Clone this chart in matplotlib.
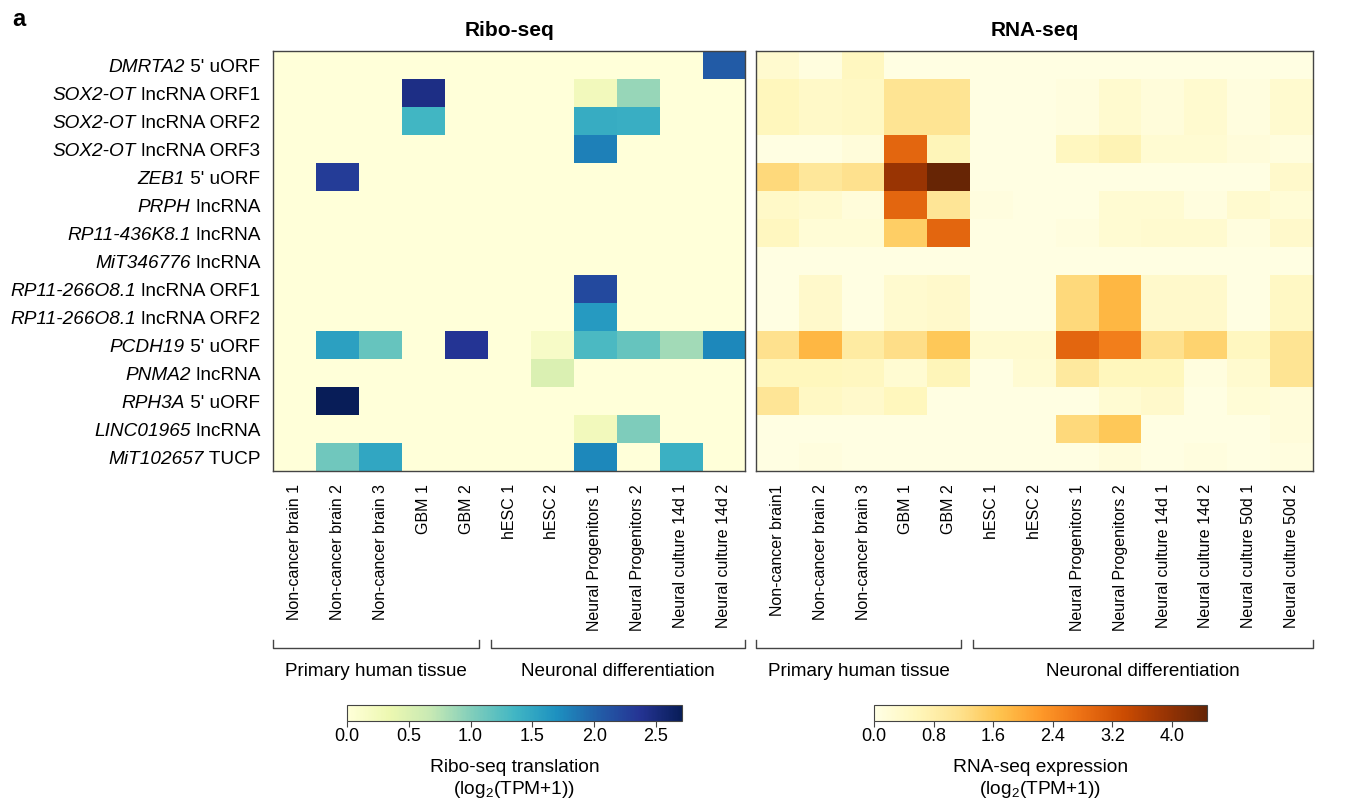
import numpy as np
import matplotlib
matplotlib.use("Agg")
import matplotlib.pyplot as plt
from matplotlib.transforms import blended_transform_factory

plt.rcParams["font.family"] = ["Liberation Sans", "DejaVu Sans"]
plt.rcParams["mathtext.fontset"] = "custom"
plt.rcParams["mathtext.rm"] = "Liberation Sans"
plt.rcParams["mathtext.it"] = "Liberation Sans:italic"

# -----------------------------
# data
# -----------------------------
GENES = ["DMRTA2", "SOX2-OT", "SOX2-OT", "SOX2-OT", "ZEB1", "PRPH", "RP11-436K8.1",
         "MiT346776", "RP11-266O8.1", "RP11-266O8.1", "PCDH19", "PNMA2", "RPH3A",
         "LINC01965", "MiT102657"]
SUFFIX = ["5' uORF", "lncRNA ORF1", "lncRNA ORF2", "lncRNA ORF3", "5' uORF", "lncRNA",
          "lncRNA", "lncRNA", "lncRNA ORF1", "lncRNA ORF2", "5' uORF", "lncRNA",
          "5' uORF", "lncRNA", "TUCP"]

RIBO_SAMPLES = ["Non-cancer brain 1", "Non-cancer brain 2", "Non-cancer brain 3", "GBM 1",
                "GBM 2", "hESC 1", "hESC 2", "Neural Progenitors 1", "Neural Progenitors 2",
                "Neural culture 14d 1", "Neural culture 14d 2"]
RNA_SAMPLES = ["Non-cancer brain1", "Non-cancer brain 2", "Non-cancer brain 3", "GBM 1",
               "GBM 2", "hESC 1", "hESC 2", "Neural Progenitors 1", "Neural Progenitors 2",
               "Neural culture 14d 1", "Neural culture 14d 2", "Neural culture 50d 1",
               "Neural culture 50d 2"]

RIBO = np.array([
    [0, 0, 0, 0, 0, 0, 0, 0, 0, 0, 2.05],
    [0, 0, 0, 2.45, 0, 0, 0, 0.25, 0.9, 0, 0],
    [0, 0, 0, 1.35, 0, 0, 0, 1.45, 1.42, 0, 0],
    [0, 0, 0, 0, 0, 0, 0, 1.8, 0, 0, 0],
    [0, 2.3, 0, 0, 0, 0, 0, 0, 0, 0, 0],
    [0, 0, 0, 0, 0, 0, 0, 0, 0, 0, 0],
    [0, 0, 0, 0, 0, 0, 0, 0, 0, 0, 0],
    [0, 0, 0, 0, 0, 0, 0, 0, 0, 0, 0],
    [0, 0, 0, 0, 0, 0, 0, 2.2, 0, 0, 0],
    [0, 0, 0, 0, 0, 0, 0, 1.6, 0, 0, 0],
    [0, 1.55, 1.15, 0, 2.37, 0, 0.15, 1.3, 1.15, 0.85, 1.75],
    [0, 0, 0, 0, 0, 0, 0.5, 0, 0, 0, 0],
    [0, 2.7, 0, 0, 0, 0, 0, 0, 0, 0, 0],
    [0, 0, 0, 0, 0, 0, 0, 0.25, 1.02, 0, 0],
    [0, 1.1, 1.5, 0, 0, 0, 0, 1.75, 0, 1.4, 0],
])

RNA = np.array([
    [0.3, 0.1, 0.5, 0.05, 0.05, 0.05, 0.05, 0.05, 0.05, 0.05, 0.05, 0.05, 0.05],
    [0.55, 0.4, 0.45, 1.1, 1.1, 0.05, 0.05, 0.1, 0.3, 0.15, 0.3, 0.1, 0.3],
    [0.55, 0.4, 0.45, 1.1, 1.1, 0.05, 0.05, 0.1, 0.3, 0.15, 0.3, 0.1, 0.3],
    [0.05, 0.05, 0.15, 2.95, 0.6, 0.05, 0.05, 0.5, 0.65, 0.25, 0.25, 0.15, 0.1],
    [1.3, 1.0, 1.15, 3.9, 4.45, 0.05, 0.05, 0.05, 0.05, 0.05, 0.05, 0.05, 0.35],
    [0.4, 0.3, 0.15, 2.95, 1.05, 0.1, 0.05, 0.05, 0.25, 0.25, 0.1, 0.3, 0.2],
    [0.5, 0.2, 0.2, 1.5, 2.95, 0.05, 0.05, 0.1, 0.25, 0.3, 0.3, 0.1, 0.35],
    [0.05, 0.05, 0.05, 0.05, 0.05, 0.05, 0.05, 0.05, 0.05, 0.05, 0.05, 0.05, 0.05],
    [0.05, 0.35, 0.05, 0.3, 0.35, 0.05, 0.05, 1.3, 1.85, 0.35, 0.35, 0.05, 0.45],
    [0.05, 0.35, 0.05, 0.3, 0.35, 0.05, 0.05, 1.3, 1.85, 0.35, 0.35, 0.05, 0.45],
    [1.15, 1.85, 0.9, 1.2, 1.6, 0.3, 0.3, 2.95, 2.6, 1.15, 1.4, 0.5, 1.1],
    [0.55, 0.55, 0.5, 0.25, 0.6, 0.05, 0.25, 0.95, 0.55, 0.55, 0.1, 0.3, 1.1],
    [1.05, 0.45, 0.35, 0.55, 0.05, 0.05, 0.05, 0.05, 0.25, 0.35, 0.05, 0.2, 0.15],
    [0.05, 0.05, 0.05, 0.05, 0.05, 0.05, 0.05, 1.3, 1.6, 0.05, 0.05, 0.05, 0.15],
    [0.05, 0.1, 0.05, 0.05, 0.05, 0.05, 0.05, 0.05, 0.15, 0.05, 0.1, 0.05, 0.1],
])

RIBO_MAX = 2.71
RNA_MAX = 4.47
RIBO_TICKS = [0.0, 0.5, 1.0, 1.5, 2.0, 2.5]
RNA_TICKS = [0.0, 0.8, 1.6, 2.4, 3.2, 4.0]
GROUPS = ["Primary human tissue", "Neuronal differentiation"]

W, H = 1356, 802


def box(x0, y0, x1, y1):
    # pixel box (top-left origin) -> figure fraction rect
    return [x0 / W, 1 - y1 / H, (x1 - x0) / W, (y1 - y0) / H]


fig = plt.figure(figsize=(W / 100, H / 100), dpi=100)

ax1 = fig.add_axes(box(273, 51, 745, 471))
ax2 = fig.add_axes(box(756, 51, 1313, 471))

im1 = ax1.imshow(RIBO, cmap="YlGnBu", vmin=0, vmax=RIBO_MAX, aspect="auto",
                 interpolation="nearest")
im2 = ax2.imshow(RNA, cmap="YlOrBr", vmin=0, vmax=RNA_MAX, aspect="auto",
                 interpolation="nearest")

for ax, samples, title in [(ax1, RIBO_SAMPLES, "Ribo-seq"), (ax2, RNA_SAMPLES, "RNA-seq")]:
    ax.set_xticks(range(len(samples)))
    ax.set_xticklabels(samples, rotation=90, fontsize=11.5)
    ax.tick_params(axis="x", length=0, pad=9.5)
    ax.set_yticks([])
    for s in ax.spines.values():
        s.set_linewidth(1.0)
        s.set_color("#444444")
    pos = ax.get_position()
    fig.text(pos.x0 + pos.width / 2, 1 - 30 / H, title, ha="center", va="center",
             fontsize=15, fontweight="bold")

    # group brackets under the sample labels
    n = len(samples)
    tr = blended_transform_factory(ax.transData, fig.transFigure)
    yb, yt = 1 - 648 / H, 1 - 640 / H
    spans = [(-0.5, 4.29), (4.57, n - 0.5)]
    for (a, b), g in zip(spans, GROUPS):
        ax.plot([a, a, b, b], [yt, yb, yb, yt], transform=tr, color="#444444",
                lw=1.0, clip_on=False)
        ax.text((a + b) / 2, 1 - 672 / H, g, transform=tr, ha="center", va="center",
                fontsize=13.6)

# row labels: italic gene name + regular suffix
fig.canvas.draw()
renderer = fig.canvas.get_renderer()
tr_rows = blended_transform_factory(fig.transFigure, ax1.transData)
xr = 260 / W
for i, (g, s) in enumerate(zip(GENES, SUFFIX)):
    t = fig.text(xr, i, " " + s, transform=tr_rows, ha="right", va="center_baseline",
                 fontsize=13.7)
    w = t.get_window_extent(renderer).width
    fig.text(xr - w / W, i, g, transform=tr_rows, ha="right", va="center_baseline",
             fontsize=13.7, style="italic")

fig.text(12 / W, 1 - 19 / H, "a", fontsize=17, fontweight="bold", ha="left", va="center")

# colorbars
cax1 = fig.add_axes(box(347, 705, 682, 721))
cax2 = fig.add_axes(box(874, 705, 1207, 721))
for cax, im, ticks, lab in [(cax1, im1, RIBO_TICKS, "Ribo-seq translation"),
                            (cax2, im2, RNA_TICKS, "RNA-seq expression")]:
    cb = fig.colorbar(im, cax=cax, orientation="horizontal", ticks=ticks)
    cb.ax.set_xticklabels([f"{v:.1f}" for v in ticks])
    cb.ax.tick_params(length=4, width=0.8, color="#444444", labelsize=13, pad=1)
    cb.outline.set_linewidth(0.8)
    cb.outline.set_edgecolor("#444444")
    cb.set_label(lab + "\n(log$_2$(TPM+1))", fontsize=13.8, labelpad=10, linespacing=1.2)

fig.savefig("out.png", dpi=100)
